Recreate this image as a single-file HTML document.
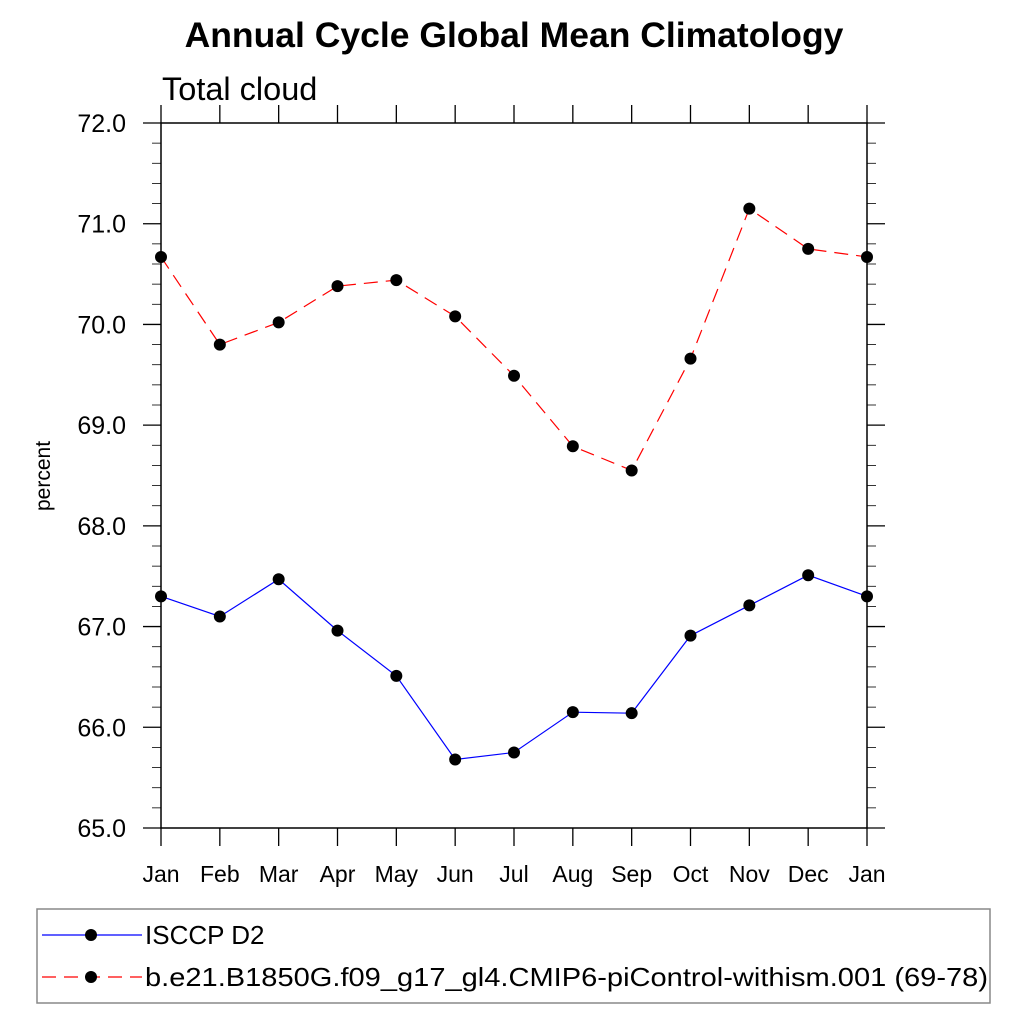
<!DOCTYPE html>
<html><head><meta charset="utf-8"><style>body{margin:0;background:#fff}svg{display:block;font-family:"Liberation Sans",sans-serif}</style></head>
<body>
<svg id="chart" width="1024" height="1024" viewBox="0 0 1024 1024" xmlns="http://www.w3.org/2000/svg">
<text x="514" y="47" text-anchor="middle" font-size="35.5" font-weight="bold">Annual Cycle Global Mean Climatology</text>
<text x="162" y="100" font-size="32.5">Total cloud</text>
<text transform="translate(50,476) rotate(-90)" text-anchor="middle" font-size="21">percent</text>
<g id="axes"></g>
<g id="series"></g>
<g>
<rect x="37" y="909" width="953" height="94" fill="none" stroke="#888" stroke-width="1.5"/>
<g>
<line x1="42" y1="935" x2="142" y2="935" stroke="#00f" stroke-width="1.2"/>
<circle cx="91" cy="935" r="6" fill="#000"/>
<text x="145" y="944" font-size="26">ISCCP D2</text></g>
<g>
<line x1="42" y1="977" x2="142" y2="977" stroke="#f00" stroke-width="1.2" stroke-dasharray="14,8"/>
<circle cx="91" cy="977" r="6" fill="#000"/>
<text x="145" y="986" font-size="26" textLength="843" lengthAdjust="spacingAndGlyphs">b.e21.B1850G.f09_g17_gl4.CMIP6-piControl-withism.001 (69-78)</text></g>
</g>
</svg>
<script>
const months=["Jan","Feb","Mar","Apr","May","Jun","Jul","Aug","Sep","Oct","Nov","Dec","Jan"];
const obsValues=[67.30,67.10,67.47,66.96,66.51,65.68,65.75,66.15,66.14,66.91,67.21,67.51,67.30];
const modelValues=[70.67,69.80,70.02,70.38,70.44,70.08,69.49,68.79,68.55,69.66,71.15,70.75,70.67];
const yTicks=[65,66,67,68,69,70,71,72];
const NS="http://www.w3.org/2000/svg";
const L=161,R=867,T=123,B=828,ymin=65,ymax=72;
const xs=i=>L+(R-L)*i/(months.length-1);
const ys=v=>B-(B-T)*(v-ymin)/(ymax-ymin);
function mk(tag,attrs,parent){const e=document.createElementNS(NS,tag);for(const k in attrs)e.setAttribute(k,attrs[k]);parent.appendChild(e);return e;}
const ax=document.getElementById('axes');
let f=mk('rect',{x:L,y:T,width:R-L,height:B-T,fill:'none',stroke:'#000','stroke-width':1.5},ax);


months.forEach((m,i)=>{const x=xs(i);
 mk('line',{x1:x,y1:B,x2:x,y2:B+18,stroke:'#000','stroke-width':1.3},ax);
 mk('line',{x1:x,y1:T,x2:x,y2:T-18,stroke:'#000','stroke-width':1.3},ax);
 const t=mk('text',{x:x,y:B+54,'text-anchor':'middle','font-size':23},ax);t.textContent=m;
 
 
});
for(let v=ymin;v<=ymax+1e-9;v+=0.2){const y=ys(v);const major=Math.abs(v-Math.round(v))<1e-6;const len=major?18:9;
 mk('line',{x1:L-len,y1:y,x2:L,y2:y,stroke:'#000','stroke-width':major?1.3:0.8},ax);
 mk('line',{x1:R,y1:y,x2:R+len,y2:y,stroke:'#000','stroke-width':major?1.3:0.8},ax);}
yTicks.forEach(v=>{const t=mk('text',{x:L-35,y:ys(v)+9,'text-anchor':'end','font-size':25},ax);t.textContent=v.toFixed(1);
 
 });
const sg=document.getElementById('series');
function series(vals,color,dash,name){
 const p=mk('polyline',{points:vals.map((v,i)=>xs(i)+','+ys(v)).join(' '),fill:'none',stroke:color,'stroke-width':1.2},sg);
 if(dash)p.setAttribute('stroke-dasharray',dash);
 
 
 vals.forEach((v,i)=>{const c=mk('circle',{cx:xs(i),cy:ys(v),r:6,fill:'#000'},sg);
  
  });
}
series(obsValues,'#00f',null,'isccp');
series(modelValues,'#f00','14,8','model');
</script>
</body></html>
